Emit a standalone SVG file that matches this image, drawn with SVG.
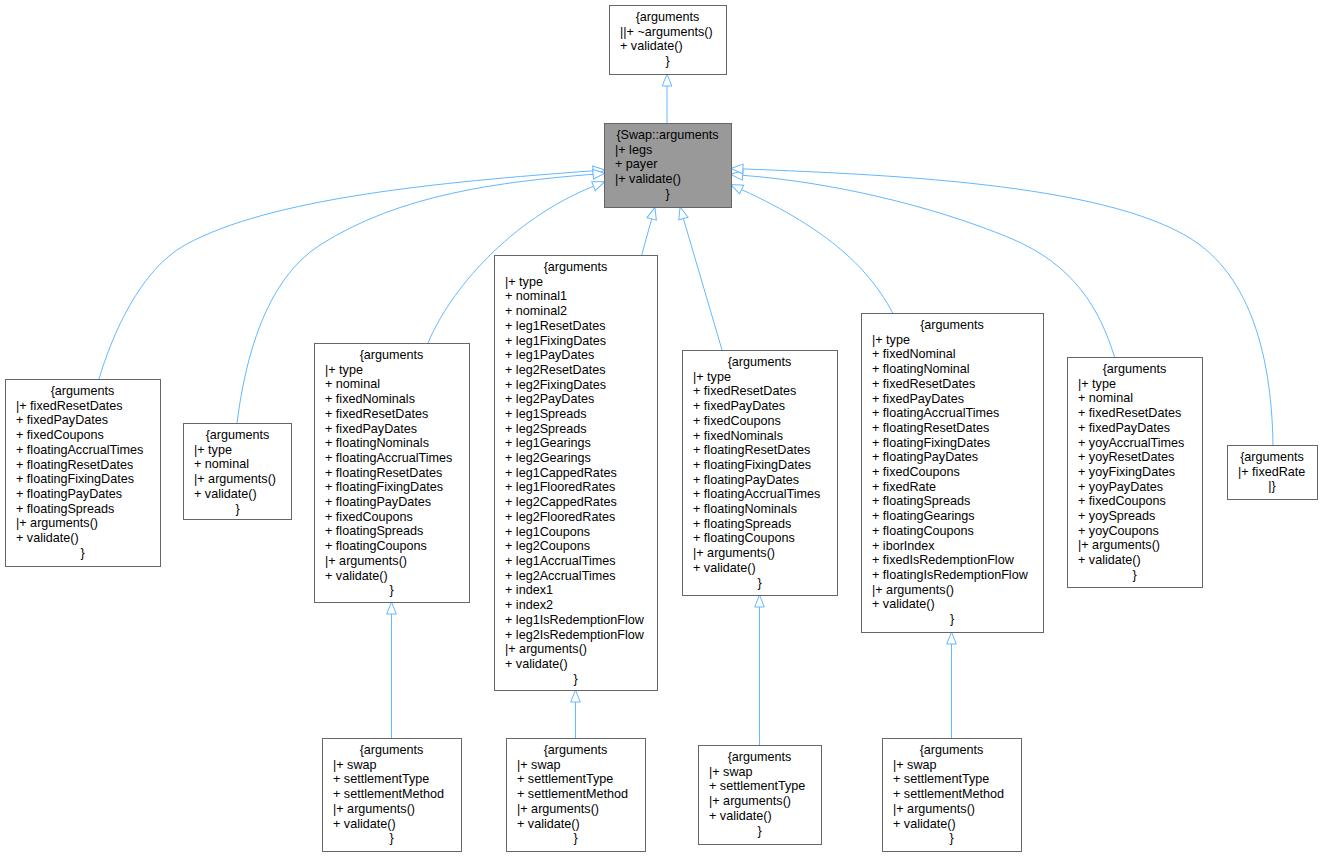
<svg xmlns="http://www.w3.org/2000/svg" width="1323" height="857" viewBox="0 0 1323 857">
<style>
.b{fill:#fff;stroke:#666;stroke-width:1}
.s{fill:#999;stroke:#666;stroke-width:1}
text{font-family:"Liberation Sans",Arial,sans-serif;font-size:12.6px;fill:#000}
.c{text-anchor:middle}
.e{fill:none;stroke:#63B8FF;stroke-width:1;marker-end:url(#inh)}
</style>
<defs>
<marker id="inh" markerUnits="userSpaceOnUse" viewBox="-1 -6 14 12" markerWidth="14" markerHeight="12" refX="0" refY="0" orient="auto">
<path d="M0,-4.8 L12,0 L0,4.8 Z" fill="#fff" stroke="#63B8FF" stroke-width="1"/>
</marker>
</defs>
<rect width="1323" height="857" fill="#fff"/>
<g id="connectors">
<path class="e" d="M667,123 L667,86"/>
<path class="e" d="M99,379 C112,335 140,270 185,245 C270,198 440,182 593,170.8"/>
<path class="e" d="M237,423 C245,360 265,280 320,245 C400,194 500,182 593.1,174.2"/>
<path class="e" d="M428,343 C450,290 510,220 593.5,186.2"/>
<path class="e" d="M641.7,255 L651.7,218.9"/>
<path class="e" d="M722,350 L683.4,218.5"/>
<path class="e" d="M892.7,313 C870,270 830,230 741.6,189.6"/>
<path class="e" d="M1114.5,357 C1100,310 1075,265 1010,238 C930,205 830,182 742.7,175.3"/>
<path class="e" d="M1273,445 C1272,380 1260,290 1200,245 C1120,185 900,175 742.9,168.9"/>
<path class="e" d="M391.5,738 L391.5,614"/>
<path class="e" d="M575.5,738 L575.5,702"/>
<path class="e" d="M759.5,745 L759.5,607"/>
<path class="e" d="M951.5,738 L951.5,644"/>
</g>
<g id="node_base">
<rect class="b" x="609.5" y="5.5" width="117" height="69"/>
<text><tspan class="c" x="667.5" y="21">{arguments</tspan><tspan x="620" dy="14.7">||+ ~arguments()</tspan><tspan x="620" dy="14.7">+ validate()</tspan><tspan class="c" x="667.5" dy="14.7">}</tspan></text>
</g>
<g id="node_swap">
<rect class="s" x="604.5" y="123.5" width="127" height="84"/>
<text><tspan class="c" x="667.5" y="139">{Swap::arguments</tspan><tspan x="615" dy="14.7">|+ legs</tspan><tspan x="615" dy="14.7">+ payer</tspan><tspan x="615" dy="14.7">|+ validate()</tspan><tspan class="c" x="667.5" dy="14.7">}</tspan></text>
</g>
<g id="node1">
<rect class="b" x="5.5" y="379.5" width="155" height="187"/>
<text><tspan class="c" x="82.5" y="395">{arguments</tspan><tspan x="16" dy="14.7">|+ fixedResetDates</tspan><tspan x="16" dy="14.7">+ fixedPayDates</tspan><tspan x="16" dy="14.7">+ fixedCoupons</tspan><tspan x="16" dy="14.7">+ floatingAccrualTimes</tspan><tspan x="16" dy="14.7">+ floatingResetDates</tspan><tspan x="16" dy="14.7">+ floatingFixingDates</tspan><tspan x="16" dy="14.7">+ floatingPayDates</tspan><tspan x="16" dy="14.7">+ floatingSpreads</tspan><tspan x="16" dy="14.7">|+ arguments()</tspan><tspan x="16" dy="14.7">+ validate()</tspan><tspan class="c" x="82.5" dy="14.7">}</tspan></text>
</g>
<g id="node2">
<rect class="b" x="183.5" y="423.5" width="108" height="96"/>
<text><tspan class="c" x="237.5" y="439">{arguments</tspan><tspan x="194" dy="14.7">|+ type</tspan><tspan x="194" dy="14.7">+ nominal</tspan><tspan x="194" dy="14.7">|+ arguments()</tspan><tspan x="194" dy="14.7">+ validate()</tspan><tspan class="c" x="237.5" dy="14.7">}</tspan></text>
</g>
<g id="node3">
<rect class="b" x="314.5" y="343.5" width="155" height="259"/>
<text><tspan class="c" x="391.5" y="359">{arguments</tspan><tspan x="325" dy="14.7">|+ type</tspan><tspan x="325" dy="14.7">+ nominal</tspan><tspan x="325" dy="14.7">+ fixedNominals</tspan><tspan x="325" dy="14.7">+ fixedResetDates</tspan><tspan x="325" dy="14.7">+ fixedPayDates</tspan><tspan x="325" dy="14.7">+ floatingNominals</tspan><tspan x="325" dy="14.7">+ floatingAccrualTimes</tspan><tspan x="325" dy="14.7">+ floatingResetDates</tspan><tspan x="325" dy="14.7">+ floatingFixingDates</tspan><tspan x="325" dy="14.7">+ floatingPayDates</tspan><tspan x="325" dy="14.7">+ fixedCoupons</tspan><tspan x="325" dy="14.7">+ floatingSpreads</tspan><tspan x="325" dy="14.7">+ floatingCoupons</tspan><tspan x="325" dy="14.7">|+ arguments()</tspan><tspan x="325" dy="14.7">+ validate()</tspan><tspan class="c" x="391.5" dy="14.7">}</tspan></text>
</g>
<g id="node4">
<rect class="b" x="494.5" y="255.5" width="163" height="435"/>
<text><tspan class="c" x="575.5" y="271">{arguments</tspan><tspan x="505" dy="14.7">|+ type</tspan><tspan x="505" dy="14.7">+ nominal1</tspan><tspan x="505" dy="14.7">+ nominal2</tspan><tspan x="505" dy="14.7">+ leg1ResetDates</tspan><tspan x="505" dy="14.7">+ leg1FixingDates</tspan><tspan x="505" dy="14.7">+ leg1PayDates</tspan><tspan x="505" dy="14.7">+ leg2ResetDates</tspan><tspan x="505" dy="14.7">+ leg2FixingDates</tspan><tspan x="505" dy="14.7">+ leg2PayDates</tspan><tspan x="505" dy="14.7">+ leg1Spreads</tspan><tspan x="505" dy="14.7">+ leg2Spreads</tspan><tspan x="505" dy="14.7">+ leg1Gearings</tspan><tspan x="505" dy="14.7">+ leg2Gearings</tspan><tspan x="505" dy="14.7">+ leg1CappedRates</tspan><tspan x="505" dy="14.7">+ leg1FlooredRates</tspan><tspan x="505" dy="14.7">+ leg2CappedRates</tspan><tspan x="505" dy="14.7">+ leg2FlooredRates</tspan><tspan x="505" dy="14.7">+ leg1Coupons</tspan><tspan x="505" dy="14.7">+ leg2Coupons</tspan><tspan x="505" dy="14.7">+ leg1AccrualTimes</tspan><tspan x="505" dy="14.7">+ leg2AccrualTimes</tspan><tspan x="505" dy="14.7">+ index1</tspan><tspan x="505" dy="14.7">+ index2</tspan><tspan x="505" dy="14.7">+ leg1IsRedemptionFlow</tspan><tspan x="505" dy="14.7">+ leg2IsRedemptionFlow</tspan><tspan x="505" dy="14.7">|+ arguments()</tspan><tspan x="505" dy="14.7">+ validate()</tspan><tspan class="c" x="575.5" dy="14.7">}</tspan></text>
</g>
<g id="node5">
<rect class="b" x="682.5" y="350.5" width="155" height="245"/>
<text><tspan class="c" x="759.5" y="366">{arguments</tspan><tspan x="693" dy="14.7">|+ type</tspan><tspan x="693" dy="14.7">+ fixedResetDates</tspan><tspan x="693" dy="14.7">+ fixedPayDates</tspan><tspan x="693" dy="14.7">+ fixedCoupons</tspan><tspan x="693" dy="14.7">+ fixedNominals</tspan><tspan x="693" dy="14.7">+ floatingResetDates</tspan><tspan x="693" dy="14.7">+ floatingFixingDates</tspan><tspan x="693" dy="14.7">+ floatingPayDates</tspan><tspan x="693" dy="14.7">+ floatingAccrualTimes</tspan><tspan x="693" dy="14.7">+ floatingNominals</tspan><tspan x="693" dy="14.7">+ floatingSpreads</tspan><tspan x="693" dy="14.7">+ floatingCoupons</tspan><tspan x="693" dy="14.7">|+ arguments()</tspan><tspan x="693" dy="14.7">+ validate()</tspan><tspan class="c" x="759.5" dy="14.7">}</tspan></text>
</g>
<g id="node6">
<rect class="b" x="861.5" y="313.5" width="182" height="319"/>
<text><tspan class="c" x="952" y="329">{arguments</tspan><tspan x="872" dy="14.7">|+ type</tspan><tspan x="872" dy="14.7">+ fixedNominal</tspan><tspan x="872" dy="14.7">+ floatingNominal</tspan><tspan x="872" dy="14.7">+ fixedResetDates</tspan><tspan x="872" dy="14.7">+ fixedPayDates</tspan><tspan x="872" dy="14.7">+ floatingAccrualTimes</tspan><tspan x="872" dy="14.7">+ floatingResetDates</tspan><tspan x="872" dy="14.7">+ floatingFixingDates</tspan><tspan x="872" dy="14.7">+ floatingPayDates</tspan><tspan x="872" dy="14.7">+ fixedCoupons</tspan><tspan x="872" dy="14.7">+ fixedRate</tspan><tspan x="872" dy="14.7">+ floatingSpreads</tspan><tspan x="872" dy="14.7">+ floatingGearings</tspan><tspan x="872" dy="14.7">+ floatingCoupons</tspan><tspan x="872" dy="14.7">+ iborIndex</tspan><tspan x="872" dy="14.7">+ fixedIsRedemptionFlow</tspan><tspan x="872" dy="14.7">+ floatingIsRedemptionFlow</tspan><tspan x="872" dy="14.7">|+ arguments()</tspan><tspan x="872" dy="14.7">+ validate()</tspan><tspan class="c" x="952" dy="14.7">}</tspan></text>
</g>
<g id="node7">
<rect class="b" x="1067.5" y="357.5" width="135" height="230"/>
<text><tspan class="c" x="1134.5" y="373">{arguments</tspan><tspan x="1078" dy="14.7">|+ type</tspan><tspan x="1078" dy="14.7">+ nominal</tspan><tspan x="1078" dy="14.7">+ fixedResetDates</tspan><tspan x="1078" dy="14.7">+ fixedPayDates</tspan><tspan x="1078" dy="14.7">+ yoyAccrualTimes</tspan><tspan x="1078" dy="14.7">+ yoyResetDates</tspan><tspan x="1078" dy="14.7">+ yoyFixingDates</tspan><tspan x="1078" dy="14.7">+ yoyPayDates</tspan><tspan x="1078" dy="14.7">+ fixedCoupons</tspan><tspan x="1078" dy="14.7">+ yoySpreads</tspan><tspan x="1078" dy="14.7">+ yoyCoupons</tspan><tspan x="1078" dy="14.7">|+ arguments()</tspan><tspan x="1078" dy="14.7">+ validate()</tspan><tspan class="c" x="1134.5" dy="14.7">}</tspan></text>
</g>
<g id="node8">
<rect class="b" x="1227.5" y="445.5" width="90" height="54"/>
<text><tspan class="c" x="1272" y="461">{arguments</tspan><tspan x="1238" dy="14.7">|+ fixedRate</tspan><tspan class="c" x="1272" dy="14.7">|}</tspan></text>
</g>
<g id="node9">
<rect class="b" x="322.5" y="738.5" width="139" height="113"/>
<text><tspan class="c" x="391.5" y="754">{arguments</tspan><tspan x="333" dy="14.7">|+ swap</tspan><tspan x="333" dy="14.7">+ settlementType</tspan><tspan x="333" dy="14.7">+ settlementMethod</tspan><tspan x="333" dy="14.7">|+ arguments()</tspan><tspan x="333" dy="14.7">+ validate()</tspan><tspan class="c" x="391.5" dy="14.7">}</tspan></text>
</g>
<g id="node10">
<rect class="b" x="506.5" y="738.5" width="139" height="113"/>
<text><tspan class="c" x="575.5" y="754">{arguments</tspan><tspan x="517" dy="14.7">|+ swap</tspan><tspan x="517" dy="14.7">+ settlementType</tspan><tspan x="517" dy="14.7">+ settlementMethod</tspan><tspan x="517" dy="14.7">|+ arguments()</tspan><tspan x="517" dy="14.7">+ validate()</tspan><tspan class="c" x="575.5" dy="14.7">}</tspan></text>
</g>
<g id="node11">
<rect class="b" x="698.5" y="745.5" width="123" height="99"/>
<text><tspan class="c" x="759.5" y="761">{arguments</tspan><tspan x="709" dy="14.7">|+ swap</tspan><tspan x="709" dy="14.7">+ settlementType</tspan><tspan x="709" dy="14.7">|+ arguments()</tspan><tspan x="709" dy="14.7">+ validate()</tspan><tspan class="c" x="759.5" dy="14.7">}</tspan></text>
</g>
<g id="node12">
<rect class="b" x="882.5" y="738.5" width="139" height="113"/>
<text><tspan class="c" x="951.5" y="754">{arguments</tspan><tspan x="893" dy="14.7">|+ swap</tspan><tspan x="893" dy="14.7">+ settlementType</tspan><tspan x="893" dy="14.7">+ settlementMethod</tspan><tspan x="893" dy="14.7">|+ arguments()</tspan><tspan x="893" dy="14.7">+ validate()</tspan><tspan class="c" x="951.5" dy="14.7">}</tspan></text>
</g>
</svg>
